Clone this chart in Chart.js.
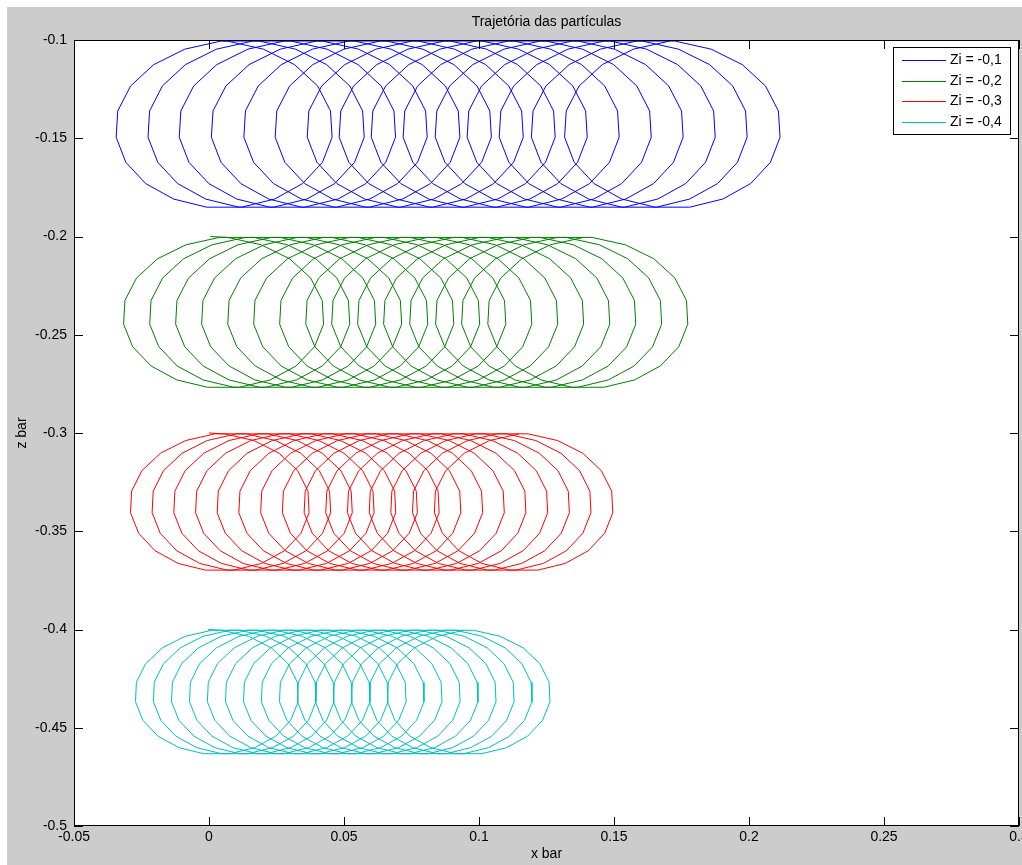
<!DOCTYPE html>
<html>
<head>
<meta charset="utf-8">
<title>Trajetória das partículas</title>
<script src="https://cdn.jsdelivr.net/npm/chart.js@4.4.1/dist/chart.umd.min.js"></script>
<style>
  html, body { margin: 0; padding: 0; background: #fff; overflow: hidden; }
  canvas { display: block; }
</style>
</head>
<body>
<canvas id="c" width="1022" height="865"></canvas>
<script>
// Particle trajectories under a wave: one series per starting depth Zi.
const seriesLabels = ['Zi = -0,1', 'Zi = -0,2', 'Zi = -0,3', 'Zi = -0,4'];
const startDepths  = [-0.1, -0.2, -0.3, -0.4];
// orbit radii (horizontal, vertical) for each starting depth
const orbitRadiusX = [0.0432, 0.0397, 0.0353, 0.0320];
const orbitRadiusZ = [0.0428, 0.0386, 0.0351, 0.0318];
// centre of each of the 15 orbits, in x
const loopCentersZi1 = [0.0056, 0.0175, 0.0290, 0.0408, 0.0530, 0.0645, 0.0764, 0.0882, 0.1001, 0.1119, 0.1238, 0.1356, 0.1475, 0.1593, 0.1716];
const loopCentersZi2 = [0.0054, 0.0151, 0.0247, 0.0343, 0.0440, 0.0536, 0.0632, 0.0729, 0.0825, 0.0921, 0.1017, 0.1114, 0.1210, 0.1306, 0.1403];
const loopCentersZi3 = [0.0040, 0.0120, 0.0200, 0.0281, 0.0361, 0.0441, 0.0522, 0.0602, 0.0683, 0.0763, 0.0843, 0.0924, 0.1004, 0.1084, 0.1165];
const loopCentersZi4 = [0.0029, 0.0095, 0.0162, 0.0229, 0.0295, 0.0362, 0.0429, 0.0495, 0.0562, 0.0629, 0.0695, 0.0762, 0.0829, 0.0895, 0.0962];
const loopCenters = [loopCentersZi1, loopCentersZi2, loopCentersZi3, loopCentersZi4];

const xTickValues = [-0.05, 0, 0.05, 0.1, 0.15, 0.2, 0.25, 0.3];
const xTickLabels = ['-0.05', '0', '0.05', '0.1', '0.15', '0.2', '0.25', '0.3'];
const yTickValues = [-0.5, -0.45, -0.4, -0.35, -0.3, -0.25, -0.2, -0.15, -0.1];
const yTickLabels = ['-0.5', '-0.45', '-0.4', '-0.35', '-0.3', '-0.25', '-0.2', '-0.15', '-0.1'];

const seriesColors = ['#0000ff', '#008000', '#ff0000', '#00bfbf'];
const samplesPerOrbit = 20;
const samplePhase = 0.025;
const FONT = '"Liberation Sans", Arial, Helvetica, sans-serif';

// orbit centre drifting along x; orbit k is centred at t = k + 0.5
function centerAt(centers, t) {
  const u = t - 0.5;
  let k = Math.floor(u);
  k = Math.max(0, Math.min(centers.length - 2, k));
  const f = u - k;
  return centers[k] + (centers[k + 1] - centers[k]) * f;
}

function positionAt(centers, top, rx, rz, t) {
  const th = 2 * Math.PI * t;
  return { x: centerAt(centers, t) + rx * Math.sin(th), y: top - rz + rz * Math.cos(th) };
}

// the particle starts at the crest of its first orbit (t = 0)
function orbitPath(centers, top, rx, rz) {
  const pts = [positionAt(centers, top, rx, rz, 0)];
  const n = centers.length * samplesPerOrbit;
  for (let i = 0; i < n; i++) {
    pts.push(positionAt(centers, top, rx, rz, i / samplesPerOrbit + samplePhase));
  }
  return pts;
}

const datasets = seriesLabels.map((label, i) => ({
  label,
  data: orbitPath(loopCenters[i], startDepths[i], orbitRadiusX[i], orbitRadiusZ[i]),
  borderColor: seriesColors[i],
  backgroundColor: seriesColors[i],
  borderWidth: 1,
  pointRadius: 0,
  showLine: true,
  tension: 0,
  fill: false
}));

const frame = {
  id: 'frame',
  beforeDraw(chart) {
    const { ctx, chartArea: a, width: W, height: H } = chart;
    ctx.save();
    ctx.fillStyle = '#ffffff';
    ctx.fillRect(0, 0, W, H);
    ctx.fillStyle = '#cccccc';
    ctx.fillRect(7, 7, W - 7, H - 7);
    ctx.fillStyle = '#ffffff';
    ctx.fillRect(a.left, a.top, a.right - a.left, a.bottom - a.top);
    ctx.restore();
  },
  afterDraw(chart) {
    const { ctx, chartArea: a, scales } = chart;
    ctx.save();
    ctx.strokeStyle = '#000';
    ctx.lineWidth = 1;
    // axes box
    ctx.strokeRect(a.left + 0.5, a.top + 0.5, a.right - a.left - 1, a.bottom - a.top - 1);
    // inward tick marks on all four sides
    const len = 9;
    ctx.beginPath();
    xTickValues.forEach(v => {
      const px = Math.round(scales.x.getPixelForValue(v)) + 0.5;
      ctx.moveTo(px, a.bottom); ctx.lineTo(px, a.bottom - len);
      ctx.moveTo(px, a.top); ctx.lineTo(px, a.top + len);
    });
    yTickValues.forEach(v => {
      const py = Math.round(scales.y.getPixelForValue(v)) + 0.5;
      ctx.moveTo(a.left, py); ctx.lineTo(a.left + len, py);
      ctx.moveTo(a.right, py); ctx.lineTo(a.right - len, py);
    });
    ctx.stroke();

    // title
    ctx.fillStyle = '#000';
    ctx.font = '14px ' + FONT;
    ctx.textAlign = 'center';
    ctx.textBaseline = 'middle';
    ctx.fillText('Trajetória das partículas', (a.left + a.right) / 2, 22);

    // legend
    const bx = 893, by = 47, bw = 118, bh = 88;
    ctx.fillStyle = '#fff';
    ctx.fillRect(bx, by, bw, bh);
    ctx.strokeStyle = '#000';
    ctx.strokeRect(bx + 0.5, by + 0.5, bw - 1, bh - 1);
    chart.data.datasets.forEach((ds, i) => {
      const y = Math.round(60 + i * 20.7) + 0.5;
      ctx.strokeStyle = ds.borderColor;
      ctx.beginPath();
      ctx.moveTo(902, y); ctx.lineTo(946, y);
      ctx.stroke();
      ctx.fillStyle = '#000';
      ctx.textAlign = 'left';
      ctx.textBaseline = 'middle';
      ctx.fillText(ds.label, 950, y);
    });
    ctx.restore();
  }
};

new Chart(document.getElementById('c'), {
  type: 'scatter',
  data: { datasets },
  plugins: [frame],
  options: {
    responsive: false,
    animation: false,
    devicePixelRatio: 1,
    layout: { padding: { top: 40, right: 3, left: 0, bottom: 0 } },
    plugins: { legend: { display: false }, tooltip: { enabled: false }, title: { display: false } },
    elements: { line: { borderWidth: 1 } },
    scales: {
      x: {
        type: 'linear', min: -0.05, max: 0.3,
        afterBuildTicks: s => { s.ticks = xTickValues.map(v => ({ value: v })); },
        afterFit: s => { s.height = 39; s.paddingLeft = 0; s.paddingRight = 0; },
        grid: { display: false, drawTicks: false },
        border: { display: false },
        ticks: {
          autoSkip: false, maxRotation: 0, minRotation: 0, padding: 3, color: '#000',
          font: { family: FONT, size: 14 },
          callback: (v, i) => xTickLabels[i]
        },
        title: { display: true, text: 'x bar', color: '#000', font: { family: FONT, size: 14 }, padding: { top: 0, bottom: 2 } }
      },
      y: {
        type: 'linear', min: -0.5, max: -0.1,
        afterBuildTicks: s => { s.ticks = yTickValues.map(v => ({ value: v })); },
        afterFit: s => { s.width = 74; s.paddingTop = 0; s.paddingBottom = 0; },
        grid: { display: false, drawTicks: false },
        border: { display: false },
        ticks: {
          autoSkip: false, padding: 7, color: '#000',
          font: { family: FONT, size: 14 },
          callback: (v, i) => yTickLabels[i]
        },
        title: { display: true, text: 'z bar', color: '#000', font: { family: FONT, size: 14 }, padding: { top: 14, bottom: 0 } }
      }
    }
  }
});
</script>
</body>
</html>
